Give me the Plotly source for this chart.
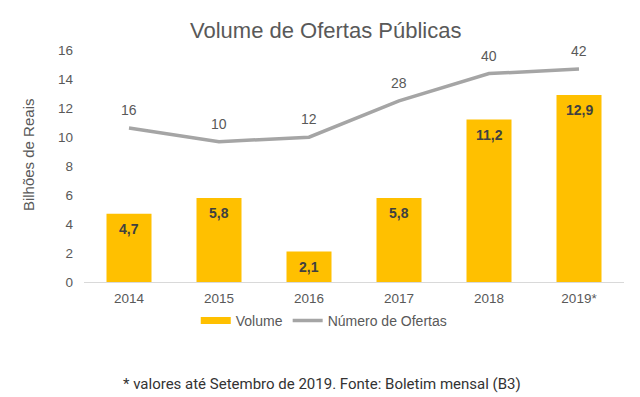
import plotly.graph_objects as go

years = ["2014", "2015", "2016", "2017", "2018", "2019*"]
volume = [4.7, 5.8, 2.1, 5.8, 11.2, 12.9]
volume_labels = ["4,7", "5,8", "2,1", "5,8", "11,2", "12,9"]
ofertas = [16, 10, 12, 28, 40, 42]
y_ticks = [0, 2, 4, 6, 8, 10, 12, 14, 16]

FONT = "Liberation Sans, Arial, sans-serif"
GREY_TXT = "#595959"
BAR_COLOR = "#FFC000"
LINE_COLOR = "#A5A5A5"

fig = go.Figure()

fig.add_trace(go.Bar(
    x=years, y=volume, name="Volume", marker=dict(color=BAR_COLOR, line=dict(width=0)),
    width=0.5, showlegend=False, hoverinfo="skip",
))
fig.add_trace(go.Scatter(
    x=years, y=ofertas, name="Número de Ofertas", mode="lines", yaxis="y2",
    line=dict(color=LINE_COLOR, width=3.5), showlegend=False, hoverinfo="skip",
))
# legend entries (wide swatches like the reference)
fig.add_trace(go.Scatter(
    x=[years[0]], y=[None], mode="lines", name="Volume",
    line=dict(color=BAR_COLOR, width=7),
))
fig.add_trace(go.Scatter(
    x=[years[0]], y=[None], mode="lines", name="Número de Ofertas",
    line=dict(color=LINE_COLOR, width=3.5),
))

annotations = []
# category axis: annotations positioned by category index
for i, (v, t) in enumerate(zip(volume, volume_labels)):
    annotations.append(dict(
        x=i, y=v, xref="x", yref="y", text=t, showarrow=False, yshift=-15,
        font=dict(family=FONT, size=14, color="#404040", weight="bold"),
    ))
for i, c in enumerate(ofertas):
    annotations.append(dict(
        x=i, y=c, xref="x", yref="y2", text=str(c), showarrow=False, yshift=18,
        font=dict(family=FONT, size=14, color=GREY_TXT),
    ))
annotations.append(dict(
    x=0.448, y=1.082, xref="paper", yref="paper", text="Volume de Ofertas Públicas",
    showarrow=False, xanchor="center", yanchor="middle",
    font=dict(family=FONT, size=22, color=GREY_TXT),
))
annotations.append(dict(
    x=-0.1037, y=0.547, xref="paper", yref="paper", text="Bilhões de Reais",
    showarrow=False, xanchor="center", yanchor="middle", textangle=-90,
    font=dict(family=FONT, size=15, color=GREY_TXT),
))
annotations.append(dict(
    x=0.441, y=-0.44, xref="paper", yref="paper",
    text="* valores até Setembro de 2019. Fonte: Boletim mensal (B3)",
    showarrow=False, xanchor="center", yanchor="middle",
    font=dict(family="Roboto, sans-serif", size=15, color="#333333"),
))

fig.update_layout(
    width=640, height=397,
    margin=dict(l=84, r=16, t=50, b=115),
    paper_bgcolor="white", plot_bgcolor="white",
    font=dict(family=FONT, size=13.5, color=GREY_TXT),
    xaxis=dict(
        type="category", categoryorder="array", categoryarray=years,
        range=[-0.5, len(years) - 0.5],
        showgrid=False, zeroline=False,
        showline=True, linecolor="#D9D9D9", linewidth=1,
        ticks="", tickfont=dict(family=FONT, size=13.5, color=GREY_TXT),
        ticklabelstandoff=4,
    ),
    yaxis=dict(
        range=[0, 16], tickvals=y_ticks, showgrid=False, zeroline=False,
        showline=False, ticks="", tickfont=dict(family=FONT, size=13.5, color=GREY_TXT),
        ticklabelstandoff=10,
    ),
    yaxis2=dict(
        range=[-51.8, 50.4], overlaying="y", side="right", visible=False,
        showgrid=False, zeroline=False,
    ),
    legend=dict(
        orientation="h", x=0.444, xanchor="center", y=-0.168, yanchor="middle",
        font=dict(family=FONT, size=14, color=GREY_TXT), bgcolor="rgba(0,0,0,0)",
        itemwidth=30,
    ),
    annotations=annotations,
)

fig.write_html(
    "out.html",
    config={"displayModeBar": False},
    post_script="document.body.style.margin='0';",
)
